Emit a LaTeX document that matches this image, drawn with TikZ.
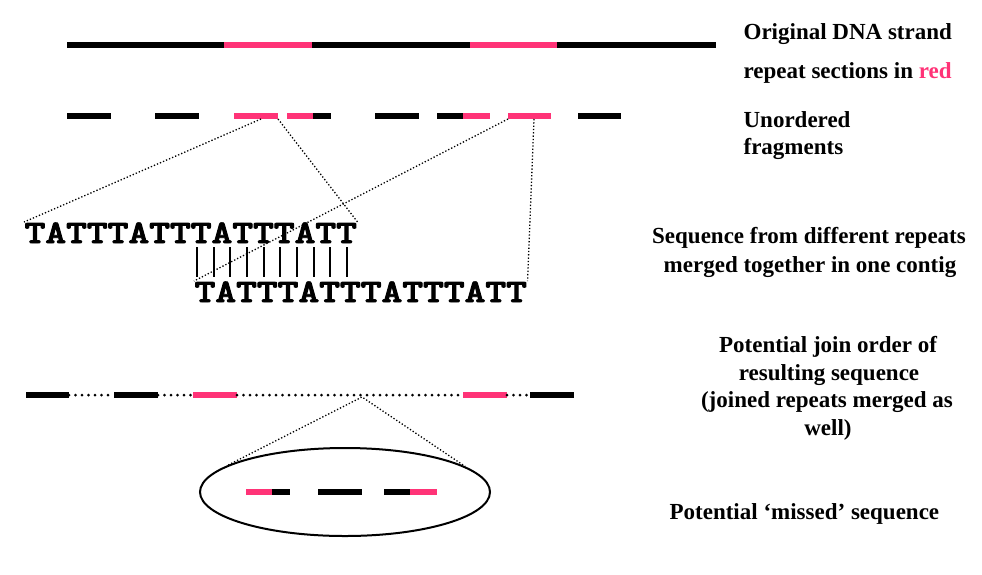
\documentclass[tikz,border=0pt]{standalone}
\usepackage{fontspec}
\setmainfont{Liberation Serif}
\newfontfamily\seqfont{lmmonolt10-bold}[Extension=.otf, FakeBold=2.5]
\usetikzlibrary{positioning, shapes.geometric}
\definecolor{cpink}{HTML}{FF3377}
\newcommand{\seqtext}[1]{\scalebox{1.21}[1]{#1}}
\tikzset{
  every picture/.style={line width=1.2pt},
  seg/.style={draw=#1, line width=6pt},
  seg/.default=black,
  link/.style={dotted, line width=1.3pt},
  gap/.style={line width=3pt, line cap=round, dash pattern=on 0pt off 6.5pt},
  bar/.style={line width=1.8pt},
  label/.style={font=\fontsize{23}{28}\selectfont\bfseries, inner sep=0pt, anchor=base west},
  clabel/.style={label, anchor=base},
  seq/.style={font=\seqfont\fontsize{32.7}{38}\selectfont, inner sep=0pt, anchor=base west},
}

\begin{document}
\begin{tikzpicture}[x=1pt, y=-1pt]
  \useasboundingbox (0,0) rectangle (982,574);
  % original strand
  \draw[seg] (67,45) -- (716,45);
  \foreach \a/\b in {224/312, 470/557} {
    \draw[seg=cpink] (\a,45) -- (\b,45);
  }
  % fragments
  \foreach \a/\b in {67/111, 155/199, 313/331, 375/419, 437/463, 578/621} {
    \draw[seg] (\a,116) -- (\b,116);
  }
  \foreach \a/\b in {234/278, 287/313, 463/490, 508/551} {
    \draw[seg=cpink] (\a,116) -- (\b,116);
  }
  \coordinate (fa) at (261,119);
  \coordinate (fb) at (278,119);
  \coordinate (fc) at (508,119);
  \coordinate (fd) at (534,119);
  % merged sequence
  \node[seq] (seqA) at (24,243) {\seqtext{TATTTATTTATTTATT}};
  \node[seq] (seqB) at (194,302) {\seqtext{TATTTATTTATTTATT}};
  \foreach \i in {0,...,9} {
    \draw[bar] (197+16.67*\i,247) -- ++(0,30);
  }
  \draw[link] (fa) -- (seqA.north west);
  \draw[link] (fb) -- (seqA.north east);
  \draw[link] (fc) -- (seqB.north west);
  \draw[link] (fd) -- (seqB.north east);
  % join order
  \foreach \a/\b in {26/69, 114/158, 530/574} {
    \draw[seg] (\a,395) -- (\b,395);
  }
  \foreach \a/\b in {193/237, 463/507} {
    \draw[seg=cpink] (\a,395) -- (\b,395);
  }
  \foreach \a/\b in {69/114, 158/193, 237/463, 507/530} {
    \draw[gap] (\a,395) -- (\b,395);
  }
  \coordinate (join) at (362,397);
  % missed sequence
  \node[draw, ellipse, line width=2pt, minimum width=290pt, minimum height=88pt] (miss) at (345,492) {};
  \draw[seg=cpink] (246,492) -- (272,492);
  \draw[seg] (272,492) -- (290,492);
  \draw[seg] (318,492) -- (362,492);
  \draw[seg] (384,492) -- (410,492);
  \draw[seg=cpink] (410,492) -- (437,492);
  \draw[link] (miss.167) -- (join) -- (miss.12);
  % labels
  \node[label] (orig) at (743,39) {Original DNA strand};
  \node[label] (rep) at (743,78) {repeat sections in \textcolor{cpink}{red}};
  \node[label] (unordA) at (743,127) {Unordered};
  \node[label] (unordB) at (743,154) {fragments};
  \node[clabel] (mergeA) at (809,243) {Sequence from different repeats};
  \node[clabel] (mergeB) at (810,272) {merged together in one contig};
  \node[clabel] (joinA) at (828,352) {Potential join order of};
  \node[clabel] (joinB) at (829,380) {resulting sequence};
  \node[clabel] (joinC) at (827,407) {(joined repeats merged as};
  \node[clabel] (joinD) at (828,435) {well)};
  \node[label] (missed) at (669,519) {Potential ‘missed’ sequence};
\end{tikzpicture}
\end{document}
